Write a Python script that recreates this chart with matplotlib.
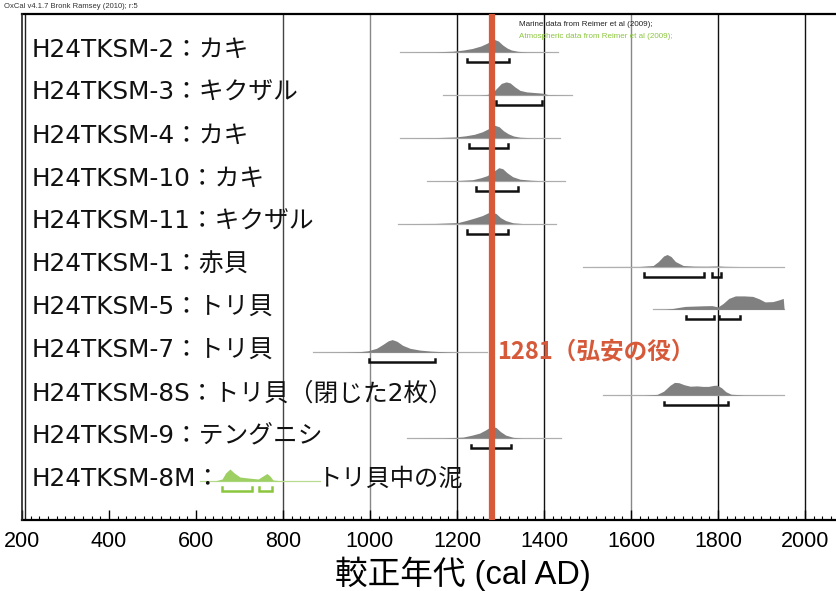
import matplotlib
matplotlib.use("Agg")
import matplotlib.pyplot as plt
from matplotlib.ticker import MultipleLocator
import matplotlib.transforms as mtransforms

# ---------------- data ----------------
labels = ["H24TKSM-2：カキ", "H24TKSM-3：キクザル", "H24TKSM-4：カキ", "H24TKSM-10：カキ",
          "H24TKSM-11：キクザル", "H24TKSM-1：赤貝", "H24TKSM-5：トリ貝", "H24TKSM-7：トリ貝",
          "H24TKSM-8S：トリ貝（閉じた2枚）", "H24TKSM-9：テングニシ", "H24TKSM-8M："]
extra_label = "トリ貝中の泥"

# probability curves (year, relative height)
s2_yr = [1069, 1150, 1190, 1215, 1235, 1255, 1270, 1285, 1295, 1305, 1315, 1325, 1340, 1360, 1432]
s2_pd = [0, 0.2, 0.8, 2, 3.5, 6, 9, 12.7, 11, 7, 4, 2, 0.7, 0.2, 0]
s3_yr = [1168, 1250, 1270, 1282, 1292, 1302, 1313, 1322, 1333, 1345, 1360, 1380, 1395, 1410, 1464]
s3_pd = [0, 0, 0.5, 2.5, 7, 11.5, 13, 12, 8, 4.5, 3, 2.3, 1.8, 0.3, 0]
s4_yr = [1069, 1150, 1195, 1220, 1240, 1258, 1272, 1287, 1297, 1307, 1318, 1330, 1345, 1370, 1437]
s4_pd = [0, 0.2, 0.8, 2, 3.5, 6, 9, 12.5, 11, 7, 4, 1.8, 0.6, 0.1, 0]
s10_yr = [1131, 1200, 1236, 1255, 1269, 1280, 1296, 1305, 1315, 1328, 1345, 1370, 1391, 1448]
s10_pd = [0, 0.2, 1, 3, 5, 8, 13, 12, 8, 4, 1.5, 0.5, 0.1, 0]
s11_yr = [1064, 1150, 1202, 1220, 1240, 1258, 1270, 1278, 1290, 1300, 1312, 1329, 1350, 1428]
s11_pd = [0, 0.2, 1, 3, 5.5, 8, 10.5, 12, 10, 6, 3, 0.8, 0.1, 0]
s1_yr = [1490, 1620, 1651, 1663, 1675, 1683, 1692, 1702, 1720, 1745, 1775, 1798, 1815, 1850, 1952]
s1_pd = [0, 0.1, 1, 5, 10.5, 12, 10, 5, 1, 0.4, 0.3, 0.6, 0.2, 0, 0]
s5_yr = [1651, 1680, 1697, 1710, 1725, 1745, 1765, 1786, 1800, 1812, 1825, 1840, 1860, 1880,
         1895, 1908, 1926, 1940, 1950, 1952]
s5_pd = [0, 0.2, 1, 2, 3, 3.3, 3.6, 3.8, 2.5, 6, 11, 13.5, 13.5, 13, 10.5, 7.5, 7.8, 9.5, 11, 0]
s7_yr = [869, 940, 975, 995, 1015, 1030, 1042, 1051, 1062, 1075, 1092, 1115, 1140, 1177, 1200, 1269]
s7_pd = [0, 0.2, 0.6, 1.5, 4, 8, 11.5, 12.7, 11, 7, 4, 2.2, 1.2, 0.4, 0.1, 0]
s8s_yr = [1536, 1630, 1660, 1675, 1690, 1700, 1710, 1722, 1736, 1752, 1765, 1778, 1790, 1798,
          1808, 1818, 1830, 1860, 1952]
s8s_pd = [0, 0.1, 0.8, 4, 10, 12.8, 12.5, 10.5, 9, 9.3, 8.8, 8.8, 9.8, 10, 7.5, 3.5, 1, 0.2, 0]
s9_yr = [1085, 1170, 1214, 1235, 1252, 1265, 1280, 1290, 1300, 1312, 1329, 1350, 1439]
s9_pd = [0, 0.2, 1, 3, 5, 8, 12, 10.5, 6.5, 3, 0.8, 0.1, 0]
s8m_yr = [609, 645, 660, 668, 678, 688, 701, 720, 743, 752, 763, 770, 777, 800, 885]
s8m_pd = [0, 0.2, 2, 8, 12, 8, 4, 3, 2, 4.5, 7.5, 5, 1, 0.1, 0]

curves_yr = [s2_yr, s3_yr, s4_yr, s10_yr, s11_yr, s1_yr, s5_yr, s7_yr, s8s_yr, s9_yr, s8m_yr]
curves_pd = [s2_pd, s3_pd, s4_pd, s10_pd, s11_pd, s1_pd, s5_pd, s7_pd, s8s_pd, s9_pd, s8m_pd]

# 95.4% ranges
ranges = [[(1223, 1320)], [(1290, 1395)], [(1228, 1317)], [(1244, 1341)], [(1223, 1317)],
          [(1630, 1768), (1786, 1807)], [(1726, 1791), (1802, 1851)], [(998, 1149)],
          [(1676, 1823)], [(1232, 1324)], [(660, 729), (745, 775)]]
is_atmospheric = [False] * 10 + [True]

event_year = 1281
event_label = "1281（弘安の役）"
grid_years = [800, 1000, 1200, 1400, 1600, 1800, 2000]
grid_colors = ["#444444", "#888888", "#111111", "#111111", "#888888", "#111111", "#111111"]
xtick_vals = [200, 400, 600, 800, 1000, 1200, 1400, 1600, 1800, 2000]

# ---------------- style ----------------
W, H = 837, 591
fig = plt.figure(figsize=(W / 100, H / 100), dpi=100)
ax_left, ax_right, ax_top, ax_bot = 22, 837, 14, 520
ax = fig.add_axes([ax_left / W, 1 - ax_bot / H, (ax_right - ax_left) / W, (ax_bot - ax_top) / H])

row_px = 42.9
first_base = 52
n = len(labels)
ax.set_xlim(200, 200 + (ax_right - ax_left) / 0.435)
ax.set_ylim((ax_bot - first_base) / row_px, (ax_top - first_base) / row_px)

gray_fill = "#808080"
green = "#8cc63e"
green_fill = "#9dcf63"
red = "#d65a3a"

for gy, gc in zip(grid_years, grid_colors):
    ax.axvline(gy, color=gc, lw=1.0, zorder=1)
ax.plot([3 / 815, 3 / 815], [0, 1], transform=ax.transAxes, color="#222222", lw=1.0, zorder=1)

scale = 1 / row_px
for i in range(n):
    yr = curves_yr[i]
    pd = curves_pd[i]
    atm = is_atmospheric[i]
    fc = green_fill if atm else gray_fill
    lc = "#b9dd91" if atm else "#b0b0b0"
    ax.plot([yr[0], yr[-1]], [i, i], color=lc, lw=0.9, zorder=2)
    ax.fill_between(yr, [i - p * scale for p in pd], i, color=fc, lw=0, zorder=2)
    bc = green if atm else "#111111"
    by = i + 10 * scale
    tick = 3.5 * scale
    for lo, hi in ranges[i]:
        ax.plot([lo, lo, hi, hi], [by - tick, by, by, by - tick], color=bc, lw=1.8,
                solid_joinstyle="miter", zorder=2)

ax.axvline(event_year, color=red, lw=4.5, zorder=3)

lab_font = ["DejaVu Sans", "Noto Sans CJK JP"]
jp = ["Noto Sans CJK JP", "DejaVu Sans"]
lab_tr = mtransforms.blended_transform_factory(ax.transAxes, ax.transData)
for i, lab in enumerate(labels):
    ax.text(10 / 815, i - 2 * scale, lab, transform=lab_tr, fontsize=17.8, family=lab_font,
            va="center", ha="left", color="#111111", zorder=4)
ax.text((318 - 22) / 815, n - 1 - 2 * scale, extra_label, transform=lab_tr, fontsize=17.5,
        family=jp, va="center", ha="left", color="#111111", zorder=4)

ax.text(event_year + 12, 7 - 1 * scale, event_label, fontsize=17, family=jp, weight="bold",
        color=red, va="center", ha="left", zorder=4)

# axes / ticks
for s in ["right", "left"]:
    ax.spines[s].set_visible(False)
ax.plot([0, 0], [0, 1], transform=ax.transAxes, color="#222222", lw=1.2, zorder=5, clip_on=False)
ax.spines["top"].set_linewidth(1.6)
ax.spines["bottom"].set_linewidth(1.6)
ax.set_yticks([])
ax.set_xticks(xtick_vals)
ax.xaxis.set_minor_locator(MultipleLocator(20))
ax.tick_params(axis="x", which="major", direction="in", length=7, width=1.0, pad=8,
               labelsize=15.5)
ax.tick_params(axis="x", which="minor", direction="in", length=3.2, width=0.8)
for t in ax.get_xticklabels():
    t.set_family(["Liberation Sans", "DejaVu Sans"])

fig.text(463 / W, 1 - 574 / H, "較正年代 (cal AD)", fontsize=23.5,
         family=["Liberation Sans", "Noto Sans CJK JP"], ha="center", va="center")

fig.text(4 / W, 1 - 6 / H, "OxCal v4.1.7 Bronk Ramsey (2010); r:5", fontsize=5.5, color="#333333",
         family="Liberation Sans", ha="left", va="center")
ax.text(519 / W, 1 - 24 / H, "Marine data from Reimer et al (2009);", transform=fig.transFigure,
        fontsize=5.8, color="#222222", family="Liberation Sans", ha="left", va="center", zorder=6)
ax.text(519 / W, 1 - 36 / H, "Atmospheric data from Reimer et al (2009);", transform=fig.transFigure,
        fontsize=5.8, color=green, family="Liberation Sans", ha="left", va="center", zorder=6)

fig.savefig("out.png", dpi=100)
